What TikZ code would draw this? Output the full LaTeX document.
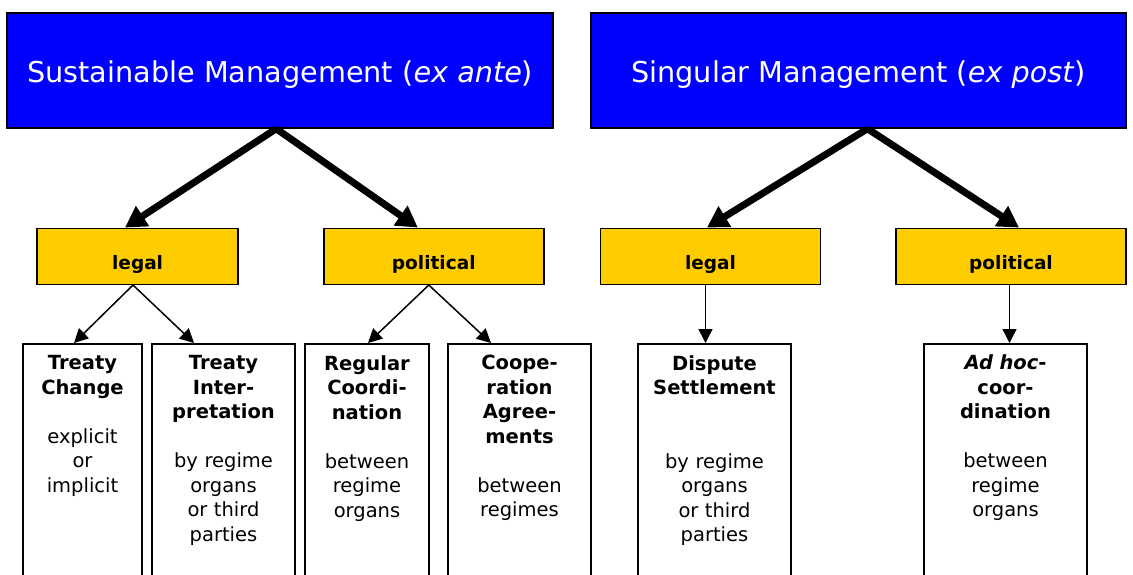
\documentclass[tikz,border=0pt]{standalone}
\usepackage{fontspec}
\setmainfont{DejaVu Sans}
\usetikzlibrary{arrows.meta}
\definecolor{headblue}{RGB}{0,0,255}
\definecolor{kindgold}{RGB}{255,204,0}

\begin{document}
\begin{tikzpicture}[x=1pt,y=-1pt,
  head/.style={draw,line width=1.5pt,fill=headblue,text=white,minimum height=115pt,
    text height=23.6pt,text depth=0pt,font=\fontsize{28.7}{34}\selectfont},
  kind/.style={draw,line width=1.5pt,fill=kindgold,minimum height=56pt,
    text height=26pt,text depth=0pt,font=\bfseries\fontsize{18.5}{22}\selectfont},
  leaf/.style={draw,line width=1.7pt,anchor=north,minimum height=260pt},
  words/.style={anchor=north,text width=150pt,align=center,inner sep=0pt,
    font=\fontsize{19.5}{24.5}\selectfont},
  bigarrow/.style={-{Triangle[length=21pt,width=23pt]},line width=7pt},
  smallarrow/.style={-{Triangle[length=14pt,width=14pt]},line width=1.5pt}]
  \useasboundingbox (0,0) rectangle (1133,575);
  \clip (0,0) rectangle (1133,575);

  % the two kinds of management
  \node[head,minimum width=546pt] (sm) at (280.2,70.5) {Sustainable Management (\textit{ex ante})};
  \node[head,minimum width=535pt] (gm) at (858.5,70.5) {Singular Management (\textit{ex post})};

  % legal / political
  \node[kind,minimum width=201pt] (sl) at (137.6,256.3) {legal};
  \node[kind,minimum width=220pt] (sp) at (433.8,256.3) {political};
  \node[kind,minimum width=220pt] (gl) at (710.5,256.3) {legal};
  \node[kind,minimum width=230pt] (gp) at (1011,256.3) {political};

  % instruments
  \foreach \n/\x/\w in {b1/82.5/119,b2/223.5/143,b3/367/124,b4/519.5/143,b5/714.5/153,b6/1005.5/163}
    \node[leaf,minimum width=\w pt] (\n) at (\x,343) {};

  \node[words] (d1) at ([yshift=-12.3pt]b1.north) {\textbf{Treaty}\\\textbf{Change}\\[24.5pt]explicit\\or\\implicit};
  \node[words] (d2) at ([yshift=-12.3pt]b2.north) {\textbf{Treaty}\\\textbf{Inter-}\\\textbf{pretation}\\[24.5pt]by regime\\organs\\or third\\parties};
  \node[words] (d3) at ([yshift=-12.3pt]b3.north) {\textbf{Regular}\\\textbf{Coordi-}\\\textbf{nation}\\[24.5pt]between\\regime\\organs};
  \node[words] (d4) at ([yshift=-12.3pt]b4.north) {\textbf{Coope-}\\\textbf{ration}\\\textbf{Agree-}\\\textbf{ments}\\[24.5pt]between\\regimes};
  \node[words] (d5) at ([yshift=-12.3pt]b5.north) {\textbf{Dispute}\\\textbf{Settlement}\\[49pt]by regime\\organs\\or third\\parties};
  \node[words] (d6) at ([yshift=-11.7pt]b6.north) {\textbf{\textit{Ad hoc}-}\\\textbf{coor-}\\\textbf{dination}\\[24.5pt]between\\regime\\organs};

  % connectors
  \draw[bigarrow] ([xshift=-4pt]sm.south) -- ([xshift=-12.6pt]sl.north);
  \draw[bigarrow] ([xshift=-4pt]sm.south) -- ([xshift=-16pt]sp.north);
  \draw[bigarrow] ([xshift=9pt]gm.south) -- ([xshift=-3.5pt]gl.north);
  \draw[bigarrow] ([xshift=9pt]gm.south) -- ([xshift=8pt]gp.north);

  \draw[smallarrow] ([xshift=-4.6pt]sl.south) -- ([xshift=-8.5pt]b1.north);
  \draw[smallarrow] ([xshift=-4.6pt]sl.south) -- ([xshift=-29.5pt]b2.north);
  \draw[smallarrow] ([xshift=-5pt]sp.south) -- ([xshift=1pt]b3.north);
  \draw[smallarrow] ([xshift=-5pt]sp.south) -- ([xshift=-28.5pt]b4.north);
  \draw[smallarrow] ([xshift=-5pt]gl.south) -- ([xshift=-9pt]b5.north);
  \draw[smallarrow] ([xshift=-1.5pt]gp.south) -- ([xshift=4pt]b6.north);
\end{tikzpicture}
\end{document}
